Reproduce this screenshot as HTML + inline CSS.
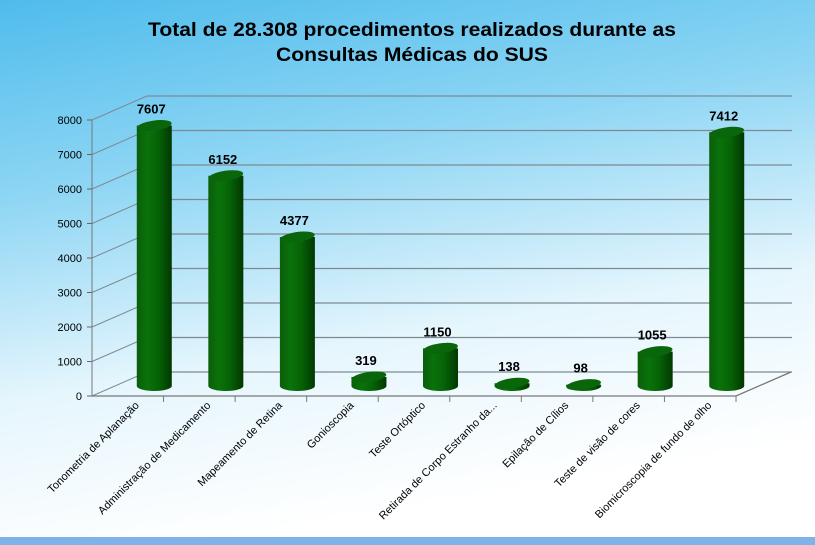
<!DOCTYPE html>
<html><head><meta charset="utf-8"><style>
body{margin:0;width:815px;height:545px;overflow:hidden}
svg{display:block}
</style></head><body>
<svg width="815" height="545" font-family="Liberation Sans, Arial, sans-serif">
<defs>
<linearGradient id="bg" x1="0" y1="0" x2="0.25" y2="1">
<stop offset="0" stop-color="#4fbcec"/><stop offset="0.35" stop-color="#8fd6f4"/><stop offset="0.7" stop-color="#e6f6fd"/><stop offset="1" stop-color="#ffffff"/>
</linearGradient>
<linearGradient id="cyl" x1="0" y1="0" x2="1" y2="0">
<stop offset="0" stop-color="#0a5e0a"/><stop offset="0.3" stop-color="#0a720a"/><stop offset="0.6" stop-color="#066406"/><stop offset="1" stop-color="#023802"/>
</linearGradient>
</defs>
<rect width="815" height="545" fill="url(#bg)"/>
<rect x="0" y="537" width="815" height="8" fill="#7fb2e8"/>
<text x="412" y="36" text-anchor="middle" font-size="19" font-weight="bold" textLength="528" lengthAdjust="spacingAndGlyphs">Total de 28.308 procedimentos realizados durante as</text>
<text x="412" y="61" text-anchor="middle" font-size="19" font-weight="bold" textLength="272" lengthAdjust="spacingAndGlyphs">Consultas Médicas do SUS</text>
<g id="plot"></g>
</svg>
<script>
const categories=["Tonometria de Aplanação","Administração de Medicamento","Mapeamento de Retina","Gonioscopia","Teste Ortóptico","Retirada de Corpo Estranho da...","Epilação de Cílios","Teste de visão de cores","Biomicroscopia de fundo de olho"];
const values=[7607,6152,4377,319,1150,138,98,1055,7412];
const ticks=[0,1000,2000,3000,4000,5000,6000,7000,8000];
const NS="http://www.w3.org/2000/svg";
const g=document.getElementById('plot');
const X0=92,X1=736,Y0=396,YMAX=120,DX=55,DY=-24,VMAX=8000;
const y=v=>Y0-(v/VMAX)*(Y0-YMAX);
const cw=(X1-X0)/categories.length;
function mk(t,a,p){const e=document.createElementNS(NS,t);for(const k in a)e.setAttribute(k,a[k]);(p||g).appendChild(e);return e;}
ticks.forEach(t=>{
 const l=mk('line',{x1:X0+DX,y1:y(t)+DY,x2:X1+DX+1,y2:y(t)+DY,stroke:'#7d8a93','stroke-width':1.3});
 
 
 const d=mk('line',{x1:X0,y1:y(t),x2:X0+DX,y2:y(t)+DY,stroke:'#7d8a93','stroke-width':1});
 
 
 const tk=mk('line',{x1:X0-5,y1:y(t),x2:X0,y2:y(t),stroke:'#666'});
 
 
 const tx=mk('text',{x:X0-10,y:y(t)+4,'text-anchor':'end','font-size':11});
 tx.textContent=t;
 
 
});
const ax=mk('line',{x1:X0,y1:y(0),x2:X0,y2:y(VMAX),stroke:'#777'});


const fl=mk('polyline',{points:`${X0},${Y0} ${X1},${Y0} ${X1+DX},${Y0+DY}`,fill:'none',stroke:'#777','stroke-width':1.3});


categories.forEach((c,i)=>{
 const tx0=X0+cw*(i+1);
 const tk=mk('line',{x1:tx0,y1:Y0,x2:tx0,y2:Y0+6,stroke:'#777'});
 
 
 const cx=X0+cw*(i+0.5)+DX/2-1, rx=17.5, ry=5;
 const yb=y(0)+DY/2+2, yt=y(values[i])+DY/2+4;
 const grp=mk('g',{});
 
 
 mk('path',{d:`M${cx-rx},${yt} L${cx-rx},${yb} A${rx},${ry} 0 0 0 ${cx+rx},${yb} L${cx+rx},${yt} Z`,fill:'url(#cyl)'},grp);
 mk('ellipse',{cx:cx,cy:yt,rx:rx,ry:ry,fill:'#0a660a',transform:`rotate(-8 ${cx} ${yt})`},grp);
 const vl=mk('text',{x:cx-3,y:yt-12,'text-anchor':'middle','font-size':13,'font-weight':'bold'});
 vl.textContent=values[i];
 
 
 const lx=X0+cw*(i+0.5)+12, ly=Y0+10;
 const cl=mk('text',{x:lx,y:ly,'text-anchor':'end','font-size':11,transform:`rotate(-45 ${lx} ${ly})`});
 cl.textContent=c;
 
 
});
</script>
</body></html>
